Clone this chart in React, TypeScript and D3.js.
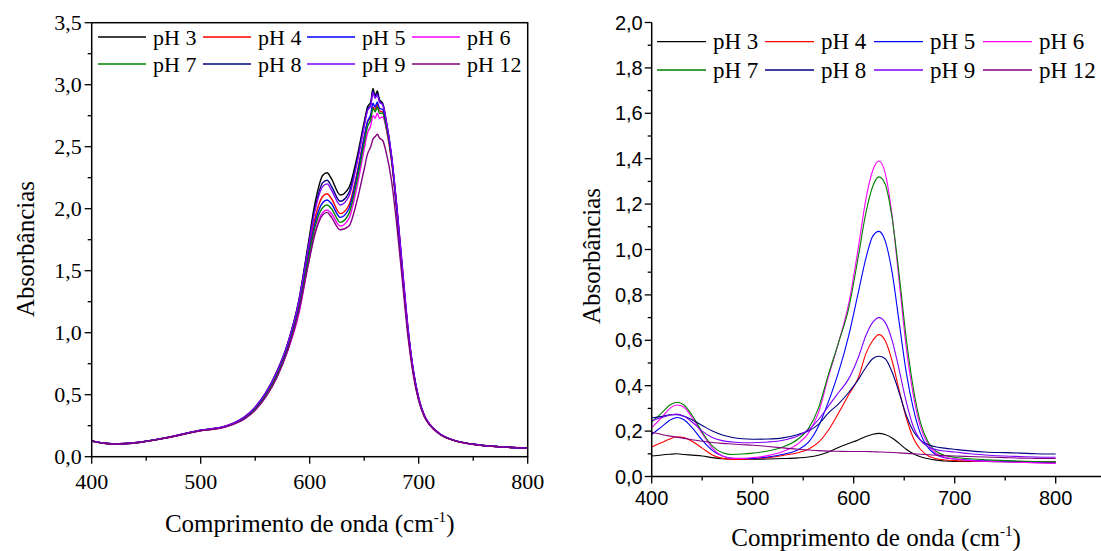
import React from 'react';
import * as d3 from 'd3';

// ---------- Left chart data ----------
const L_WL = [400, 410, 420, 430, 445, 460, 475, 490, 500, 510, 520, 530, 540, 550, 560, 570, 580, 590, 598, 605, 612, 616, 620, 628, 636, 643, 650, 653, 656, 658, 660, 662, 664, 667, 670, 675, 680, 685, 690, 695, 700, 705, 710, 720, 735, 750, 775, 800];

const L_PH3 = [0.128, 0.112, 0.104, 0.106, 0.118, 0.140, 0.165, 0.195, 0.213, 0.225, 0.240, 0.270, 0.320, 0.400, 0.520, 0.690, 0.920, 1.260, 1.680, 2.050, 2.270, 2.290, 2.240, 2.110, 2.170, 2.400, 2.700, 2.820, 2.860, 2.970, 2.910, 2.950, 2.880, 2.850, 2.720, 2.420, 1.980, 1.480, 1.020, 0.680, 0.460, 0.330, 0.260, 0.180, 0.125, 0.100, 0.080, 0.070];
const L_PH4 = [0.127, 0.111, 0.103, 0.105, 0.117, 0.139, 0.164, 0.194, 0.212, 0.223, 0.238, 0.268, 0.316, 0.395, 0.512, 0.675, 0.900, 1.220, 1.610, 1.930, 2.100, 2.120, 2.080, 1.960, 2.030, 2.270, 2.580, 2.700, 2.740, 2.820, 2.800, 2.840, 2.790, 2.780, 2.660, 2.390, 1.970, 1.480, 1.020, 0.680, 0.460, 0.330, 0.258, 0.178, 0.124, 0.099, 0.079, 0.070];
const L_PH5 = [0.127, 0.111, 0.103, 0.105, 0.117, 0.139, 0.164, 0.193, 0.211, 0.222, 0.237, 0.266, 0.313, 0.390, 0.505, 0.665, 0.885, 1.200, 1.580, 1.890, 2.050, 2.070, 2.040, 1.930, 2.000, 2.250, 2.570, 2.700, 2.760, 2.850, 2.820, 2.860, 2.810, 2.800, 2.690, 2.420, 2.000, 1.510, 1.040, 0.690, 0.470, 0.335, 0.260, 0.180, 0.125, 0.100, 0.080, 0.070];
const L_PH6 = [0.126, 0.110, 0.102, 0.104, 0.116, 0.138, 0.163, 0.192, 0.210, 0.220, 0.234, 0.262, 0.306, 0.380, 0.492, 0.648, 0.860, 1.150, 1.520, 1.820, 1.970, 1.990, 1.960, 1.860, 1.920, 2.160, 2.480, 2.610, 2.670, 2.750, 2.730, 2.770, 2.730, 2.740, 2.660, 2.420, 2.020, 1.540, 1.060, 0.700, 0.475, 0.338, 0.262, 0.181, 0.126, 0.100, 0.080, 0.070];
const L_PH7 = [0.127, 0.111, 0.103, 0.105, 0.117, 0.139, 0.164, 0.193, 0.211, 0.221, 0.236, 0.265, 0.311, 0.387, 0.500, 0.660, 0.878, 1.190, 1.560, 1.860, 2.010, 2.030, 2.000, 1.890, 1.960, 2.210, 2.530, 2.660, 2.720, 2.810, 2.780, 2.820, 2.770, 2.770, 2.670, 2.410, 2.000, 1.510, 1.040, 0.690, 0.470, 0.335, 0.260, 0.180, 0.125, 0.100, 0.080, 0.070];
const L_PH8 = [0.128, 0.112, 0.104, 0.106, 0.118, 0.140, 0.165, 0.195, 0.213, 0.224, 0.239, 0.269, 0.318, 0.398, 0.516, 0.684, 0.912, 1.250, 1.660, 2.010, 2.210, 2.230, 2.180, 2.060, 2.130, 2.370, 2.680, 2.800, 2.840, 2.950, 2.900, 2.930, 2.870, 2.840, 2.710, 2.420, 1.990, 1.500, 1.040, 0.700, 0.470, 0.335, 0.261, 0.180, 0.125, 0.100, 0.080, 0.070];
const L_PH9 = [0.128, 0.112, 0.104, 0.106, 0.118, 0.140, 0.166, 0.196, 0.214, 0.226, 0.241, 0.271, 0.320, 0.400, 0.518, 0.686, 0.915, 1.250, 1.650, 1.990, 2.180, 2.200, 2.150, 2.030, 2.100, 2.350, 2.660, 2.790, 2.830, 2.940, 2.890, 2.920, 2.860, 2.840, 2.720, 2.440, 2.010, 1.520, 1.050, 0.700, 0.470, 0.336, 0.262, 0.181, 0.126, 0.100, 0.080, 0.070];
const L_PH12 = [0.126, 0.110, 0.102, 0.104, 0.116, 0.138, 0.163, 0.192, 0.209, 0.219, 0.233, 0.260, 0.303, 0.375, 0.485, 0.640, 0.860, 1.170, 1.520, 1.800, 1.950, 1.970, 1.930, 1.830, 1.860, 2.050, 2.320, 2.440, 2.500, 2.560, 2.580, 2.600, 2.570, 2.550, 2.460, 2.230, 1.860, 1.420, 0.980, 0.660, 0.450, 0.325, 0.255, 0.177, 0.124, 0.099, 0.079, 0.069];

// ---------- Right chart data ----------
const R_WL = [400, 410, 418, 425, 432, 440, 450, 460, 470, 480, 490, 500, 515, 530, 545, 555, 565, 575, 585, 595, 605, 612, 619, 625, 631, 638, 645, 652, 659, 666, 674, 682, 690, 700, 715, 730, 750, 765, 780, 800];

const R_PH3 = [0.090, 0.095, 0.098, 0.100, 0.097, 0.094, 0.090, 0.083, 0.078, 0.076, 0.076, 0.076, 0.077, 0.079, 0.082, 0.086, 0.094, 0.108, 0.128, 0.145, 0.162, 0.176, 0.186, 0.190, 0.185, 0.170, 0.146, 0.120, 0.100, 0.087, 0.078, 0.072, 0.068, 0.066, 0.066, 0.066, 0.065, 0.065, 0.064, 0.064];
const R_PH4 = [0.130, 0.150, 0.165, 0.175, 0.172, 0.155, 0.125, 0.095, 0.080, 0.075, 0.076, 0.078, 0.083, 0.093, 0.105, 0.120, 0.150, 0.205, 0.280, 0.360, 0.440, 0.540, 0.600, 0.625, 0.600, 0.510, 0.380, 0.260, 0.170, 0.120, 0.090, 0.078, 0.073, 0.070, 0.068, 0.067, 0.066, 0.065, 0.065, 0.064];
const R_PH5 = [0.185, 0.220, 0.248, 0.260, 0.250, 0.215, 0.160, 0.115, 0.090, 0.080, 0.079, 0.080, 0.086, 0.098, 0.118, 0.150, 0.220, 0.330, 0.460, 0.620, 0.820, 0.960, 1.060, 1.080, 1.040, 0.900, 0.680, 0.460, 0.300, 0.190, 0.125, 0.095, 0.083, 0.077, 0.072, 0.069, 0.066, 0.064, 0.062, 0.060];
const R_PH6 = [0.215, 0.260, 0.300, 0.315, 0.305, 0.260, 0.190, 0.125, 0.090, 0.080, 0.080, 0.083, 0.092, 0.110, 0.145, 0.190, 0.280, 0.440, 0.590, 0.760, 1.020, 1.220, 1.350, 1.390, 1.340, 1.150, 0.860, 0.570, 0.360, 0.220, 0.140, 0.100, 0.085, 0.077, 0.070, 0.067, 0.064, 0.062, 0.060, 0.058];
const R_PH7 = [0.240, 0.280, 0.315, 0.327, 0.315, 0.270, 0.195, 0.135, 0.105, 0.097, 0.099, 0.103, 0.112, 0.130, 0.165, 0.210, 0.300, 0.450, 0.590, 0.740, 0.980, 1.160, 1.280, 1.320, 1.290, 1.140, 0.890, 0.610, 0.390, 0.240, 0.150, 0.110, 0.093, 0.085, 0.078, 0.074, 0.070, 0.068, 0.066, 0.065];
const R_PH8 = [0.258, 0.265, 0.272, 0.272, 0.265, 0.250, 0.225, 0.200, 0.183, 0.172, 0.166, 0.164, 0.165, 0.170, 0.185, 0.200, 0.230, 0.280, 0.320, 0.370, 0.430, 0.480, 0.520, 0.530, 0.520, 0.460, 0.370, 0.270, 0.200, 0.160, 0.140, 0.130, 0.125, 0.120, 0.113, 0.108, 0.105, 0.103, 0.100, 0.099];
const R_PH9 = [0.245, 0.260, 0.270, 0.275, 0.265, 0.240, 0.200, 0.172, 0.158, 0.152, 0.149, 0.149, 0.152, 0.160, 0.180, 0.205, 0.250, 0.310, 0.370, 0.430, 0.530, 0.620, 0.680, 0.700, 0.680, 0.600, 0.470, 0.330, 0.220, 0.160, 0.130, 0.118, 0.112, 0.108, 0.100, 0.095, 0.090, 0.088, 0.086, 0.085];
const R_PH12 = [0.195, 0.185, 0.178, 0.173, 0.168, 0.162, 0.155, 0.150, 0.146, 0.143, 0.140, 0.138, 0.132, 0.126, 0.120, 0.117, 0.114, 0.112, 0.111, 0.110, 0.110, 0.110, 0.109, 0.108, 0.107, 0.106, 0.104, 0.102, 0.100, 0.098, 0.096, 0.094, 0.092, 0.090, 0.088, 0.086, 0.083, 0.081, 0.080, 0.079];

const SERIES_NAMES = ['pH 3', 'pH 4', 'pH 5', 'pH 6', 'pH 7', 'pH 8', 'pH 9', 'pH 12'];
const SERIES_COLORS = ['#000000', '#ff0000', '#0000ff', '#ff00ff', '#008000', '#000080', '#8000ff', '#800080'];
const LEFT_SERIES = [L_PH3, L_PH4, L_PH5, L_PH6, L_PH7, L_PH8, L_PH9, L_PH12];
const RIGHT_SERIES = [R_PH3, R_PH4, R_PH5, R_PH6, R_PH7, R_PH8, R_PH9, R_PH12];

const L_YTICKS = [0, 0.5, 1.0, 1.5, 2.0, 2.5, 3.0, 3.5];
const R_YTICKS = [0, 0.2, 0.4, 0.6, 0.8, 1.0, 1.2, 1.4, 1.6, 1.8, 2.0];
const X_TICKS = [400, 500, 600, 700, 800];

const SERIF = '"Liberation Serif", "Times New Roman", serif';
const SANS = '"Liberation Sans", Arial, sans-serif';

const fmt = (v: number, d: number) => v.toFixed(d).replace('.', ',');

export default function App() {
  // Left scales
  const lx = d3.scaleLinear().domain([400, 800]).range([91.7, 527.7]);
  const ly = d3.scaleLinear().domain([0, 3.5]).range([456.7, 22.7]);
  // Right scales
  const rx = d3.scaleLinear().domain([400, 850]).range([651.7, 651.7 + 4.5 * 101]);
  const ry = d3.scaleLinear().domain([0, 2.0]).range([476.5, 22.5]);

  const lLine = (vals: number[]) =>
    d3.line<number>().x((_, i) => lx(L_WL[i])).y((v) => ly(v)).curve(d3.curveMonotoneX)(vals) || '';
  const rLine = (vals: number[]) =>
    d3.line<number>().x((_, i) => rx(R_WL[i])).y((v) => ry(v)).curve(d3.curveMonotoneX)(vals) || '';

  const lMinorY = d3.range(0, 3.5001, 0.25);
  const rMinorY = d3.range(0, 2.0001, 0.1);
  const lMinorX = d3.range(400, 800.1, 50);
  const rMinorX = d3.range(400, 850.1, 50);

  const LCOL = [98, 203, 307, 412];
  const LROW = [37, 64];
  const RCOL = [657, 765, 874, 983];
  const RROW = [41.7, 70];

  return (
    <svg width={1101} height={551} style={{ position: 'absolute', left: 0, top: 0, background: '#fff' }}>
      <rect x={0} y={0} width={1101} height={551} fill="#fff" />
      {/* ---------- LEFT CHART ---------- */}
      <g>
        {LEFT_SERIES.map((s, i) => (
          <path key={i} d={lLine(s)} fill="none" stroke={SERIES_COLORS[i]} strokeWidth={1.4} />
        ))}
        <rect x={lx(400)} y={ly(3.5)} width={lx(800) - lx(400)} height={ly(0) - ly(3.5)} fill="none" stroke="#000" strokeWidth={1.5} />
        {lMinorY.map((v, i) => (
          <line key={'lmy' + i} x1={lx(400)} x2={lx(400) - (i % 2 === 0 ? 7 : 4)} y1={ly(v)} y2={ly(v)} stroke="#000" strokeWidth={1.3} />
        ))}
        {lMinorX.map((v, i) => (
          <line key={'lmx' + i} y1={ly(0)} y2={ly(0) + (i % 2 === 0 ? 7 : 4)} x1={lx(v)} x2={lx(v)} stroke="#000" strokeWidth={1.3} />
        ))}
        {L_YTICKS.map((v) => (
          <text key={'lyt' + v} x={lx(400) - 10} y={ly(v) + 7} textAnchor="end" fontFamily={SERIF} fontSize={22}>{fmt(v, 1)}</text>
        ))}
        {X_TICKS.map((v) => (
          <text key={'lxt' + v} x={lx(v)} y={489} textAnchor="middle" fontFamily={SERIF} fontSize={22}>{v}</text>
        ))}
        <text x={(lx(400) + lx(800)) / 2} y={532} textAnchor="middle" fontFamily={SERIF} fontSize={25}>
          Comprimento de onda (cm<tspan dy={-10} fontSize={15}>-1</tspan><tspan dy={10}>)</tspan>
        </text>
        <text transform={`translate(34,249) rotate(-90)`} textAnchor="middle" fontFamily={SERIF} fontSize={25}>Absorbâncias</text>
        {SERIES_NAMES.map((n, i) => {
          const c = i % 4, r = Math.floor(i / 4);
          return (
            <g key={'ll' + i}>
              <line x1={LCOL[c]} x2={LCOL[c] + 48} y1={LROW[r]} y2={LROW[r]} stroke={SERIES_COLORS[i]} strokeWidth={1.4} />
              <text x={LCOL[c] + 55} y={LROW[r] + 7.5} fontFamily={SERIF} fontSize={22}>{n}</text>
            </g>
          );
        })}
      </g>
      {/* ---------- RIGHT CHART ---------- */}
      <g>
        {RIGHT_SERIES.map((s, i) => (
          <path key={i} d={rLine(s)} fill="none" stroke={SERIES_COLORS[i]} strokeWidth={1.1} />
        ))}
        <line x1={rx(400)} x2={rx(400)} y1={ry(2.0)} y2={ry(0)} stroke="#000" strokeWidth={1.5} />
        <line x1={rx(400)} x2={1101} y1={ry(0)} y2={ry(0)} stroke="#000" strokeWidth={1.5} />
        {rMinorY.map((v, i) => (
          <line key={'rmy' + i} x1={rx(400)} x2={rx(400) - (i % 2 === 0 ? 7 : 4)} y1={ry(v)} y2={ry(v)} stroke="#000" strokeWidth={1.3} />
        ))}
        {rMinorX.map((v, i) => (
          <line key={'rmx' + i} y1={ry(0)} y2={ry(0) + (i % 2 === 0 ? 7 : 4)} x1={rx(v)} x2={rx(v)} stroke="#000" strokeWidth={1.3} />
        ))}
        {R_YTICKS.map((v) => (
          <text key={'ryt' + v} x={rx(400) - 9} y={ry(v) + 7} textAnchor="end" fontFamily={SANS} fontSize={20}>{fmt(v, 1)}</text>
        ))}
        {X_TICKS.map((v) => (
          <text key={'rxt' + v} x={rx(v)} y={505} textAnchor="middle" fontFamily={SANS} fontSize={20}>{v}</text>
        ))}
        <text x={876} y={546} textAnchor="middle" fontFamily={SERIF} fontSize={25}>
          Comprimento de onda (cm<tspan dy={-10} fontSize={15}>-1</tspan><tspan dy={10}>)</tspan>
        </text>
        <text transform={`translate(600,256) rotate(-90)`} textAnchor="middle" fontFamily={SERIF} fontSize={25}>Absorbâncias</text>
        {SERIES_NAMES.map((n, i) => {
          const c = i % 4, r = Math.floor(i / 4);
          return (
            <g key={'rl' + i}>
              <line x1={RCOL[c]} x2={RCOL[c] + 49} y1={RROW[r]} y2={RROW[r]} stroke={SERIES_COLORS[i]} strokeWidth={1.3} />
              <text x={RCOL[c] + 56} y={RROW[r] + 7.5} fontFamily={SERIF} fontSize={23}>{n}</text>
            </g>
          );
        })}
      </g>
    </svg>
  );
}
